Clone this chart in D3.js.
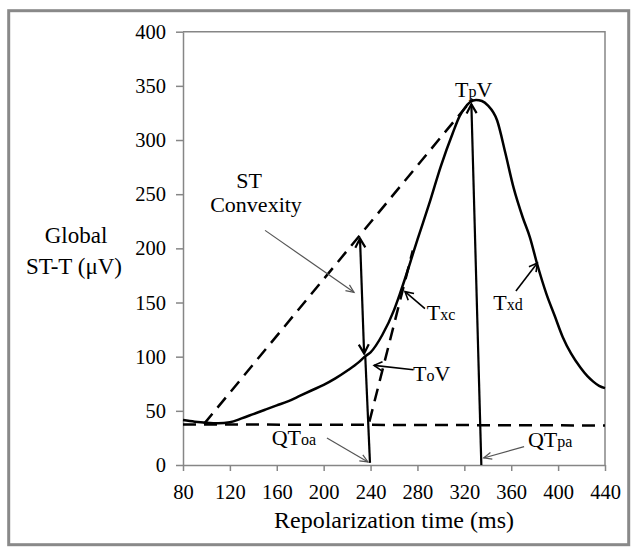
<!DOCTYPE html>
<html>
<head>
<meta charset="utf-8">
<script src="https://cdn.jsdelivr.net/npm/d3@7"></script>
<style>
  body { margin: 0; background: #fff; }
  svg text { font-family: "Liberation Serif", "Tinos", "DejaVu Serif", "Noto Serif", serif !important; fill: #000; }
</style>
</head>
<body>
<div id="chart"></div>
<script>
// global ST-T curve (ms, µV)
const timeMs = [80, 90, 100, 110, 120, 130, 140, 150, 160, 170, 180, 190, 200, 210, 220, 230, 235, 240,
  250, 260, 265, 270, 275, 280, 290, 300, 310, 316, 320, 325, 330, 335, 340, 348, 355, 362, 370, 376,
  382, 390, 397, 404, 411, 419, 425, 430, 435, 440]
const stt = [41.5, 40, 39, 38.5, 39.5, 43, 47, 51, 55, 59, 64, 69, 74, 80, 87, 95, 100, 104,
  120, 143, 158, 174, 191, 208, 241, 276, 306, 322, 329, 335, 337, 336, 332, 318, 288, 256, 228, 210,
  186, 158, 138, 118, 103, 90, 82, 77, 73, 71]

const xTicks = [80, 120, 160, 200, 240, 280, 320, 360, 400, 440]
const yTicks = [0, 50, 100, 150, 200, 250, 300, 350, 400]

// dashed construction lines [x1, y1, x2, y2]
const dashedLines = [
  [80, 37.5, 440, 36.5],     // baseline
  [98, 38, 327, 338],        // line to the peak
  [239, 40, 276, 198]        // tangent at Txc
]

// thick black arrows [x1, y1, x2, y2, head at start, head at end]
const thickArrows = [
  [231, 209, 234.5, 103, true, true],   // ST convexity
  [334.5, 0, 326, 333, false, true],    // TpV
  [235.5, 100, 239.5, 2, false, false]  // QToa drop
]

// thin pointers [x1, y1, x2, y2, kind]
const pointers = [
  [150, 216.6, 225.9, 159.4, "grey"],
  [202.8, 24.9, 237.8, 2.8, "grey"],
  [371, 17, 336.5, 6.5, "grey"],
  [286.4, 144.4, 269.4, 160, "black"],
  [276.5, 88, 243, 92, "black"],
  [364, 160.6, 382.3, 186.4, "black"]
]

// labels: [x, y, big part, small part, big part after]
const labels = [
  [312, 340, "T", "p", "V"],
  [288, 133.6, "T", "xc", ""],
  [276.2, 78, "T", "o", "V"],
  [344.7, 143, "T", "xd", ""],
  [155.7, 18.4, "QT", "oa", ""],
  [374.3, 16.5, "QT", "pa", ""]
]

const W = 637, H = 552
const svg = d3.select("#chart").append("svg").attr("width", W).attr("height", H)

// outer frame
svg.append("rect")
  .attr("x", 8.7).attr("y", 10.7).attr("width", 620).attr("height", 534)
  .attr("fill", "none").attr("stroke", "#898989").attr("stroke-width", 3)

const x = d3.scaleLinear().domain([80, 440]).range([183, 605])
const y = d3.scaleLinear().domain([0, 400]).range([465, 31.7])

const defs = svg.append("defs")
function marker(id, color, len, half, sw) {
  defs.append("marker")
    .attr("id", id)
    .attr("viewBox", "-12 -8 14 16")
    .attr("refX", 0).attr("refY", 0)
    .attr("markerWidth", 14).attr("markerHeight", 16)
    .attr("markerUnits", "userSpaceOnUse")
    .attr("orient", "auto-start-reverse")
    .append("path")
    .attr("d", `M${-len},${-half} L0,0 L${-len},${half}`)
    .attr("fill", "none").attr("stroke", color).attr("stroke-width", sw)
}
marker("headThick", "#000", 9, 5, 2.2)
marker("headBlack", "#000", 8, 4.5, 1.6)
marker("headGrey", "#555", 8, 3.5, 1.2)

// plot frame: top and right edges
svg.append("path")
  .attr("d", `M${x(80)},${y(400)} H${x(440)} V${y(0)}`)
  .attr("fill", "none").attr("stroke", "#868686").attr("stroke-width", 1.5)

const xAxis = svg.append("g")
  .attr("transform", `translate(0,${y(0)})`)
  .call(d3.axisBottom(x).tickValues(xTicks).tickSize(6).tickPadding(13).tickSizeOuter(0))
const yAxis = svg.append("g")
  .attr("transform", `translate(${x(80)},0)`)
  .call(d3.axisLeft(y).tickValues(yTicks).tickSize(7).tickPadding(10).tickSizeOuter(0))

;[xAxis, yAxis].forEach(g => {
  g.attr("font-family", null)
  g.select(".domain").attr("stroke", "#868686").attr("stroke-width", 1.5)
  g.selectAll(".tick line").attr("stroke", "#868686").attr("stroke-width", 1.5)
  g.selectAll(".tick text")
    .attr("font-size", 20.5)
    .attr("fill", "#000")
})

// axis titles
svg.append("text")
  .attr("x", (x(80) + x(440)) / 2).attr("y", 528)
  .attr("text-anchor", "middle").attr("font-size", 24)
  .text("Repolarization time (ms)")
svg.append("text")
  .attr("x", 76).attr("y", 243)
  .attr("text-anchor", "middle").attr("font-size", 23)
  .text("Global")
svg.append("text")
  .attr("x", 74).attr("y", 274)
  .attr("text-anchor", "middle").attr("font-size", 23)
  .text("ST-T (μV)")

// dashed lines
svg.selectAll(".dash")
  .data(dashedLines)
  .enter().append("line")
  .attr("x1", d => x(d[0])).attr("y1", d => y(d[1]))
  .attr("x2", d => x(d[2])).attr("y2", d => y(d[3]))
  .attr("stroke", "#000").attr("stroke-width", 2.5)
  .attr("stroke-dasharray", "13,8")

// the curve
const line = d3.line()
  .x((d, i) => x(timeMs[i]))
  .y(d => y(d))
  .curve(d3.curveMonotoneX)
svg.append("path")
  .datum(stt)
  .attr("d", line)
  .attr("fill", "none").attr("stroke", "#000").attr("stroke-width", 2.5)

// thick arrows
svg.selectAll(".thick")
  .data(thickArrows)
  .enter().append("line")
  .attr("x1", d => x(d[0])).attr("y1", d => y(d[1]))
  .attr("x2", d => x(d[2])).attr("y2", d => y(d[3]))
  .attr("stroke", "#000").attr("stroke-width", 2.2)
  .attr("marker-start", d => d[4] ? "url(#headThick)" : null)
  .attr("marker-end", d => d[5] ? "url(#headThick)" : null)

// pointers
svg.selectAll(".ptr")
  .data(pointers)
  .enter().append("line")
  .attr("x1", d => x(d[0])).attr("y1", d => y(d[1]))
  .attr("x2", d => x(d[2])).attr("y2", d => y(d[3]))
  .attr("stroke", d => d[4] === "grey" ? "#555" : "#000")
  .attr("stroke-width", d => d[4] === "grey" ? 1.2 : 1.6)
  .attr("marker-end", d => d[4] === "grey" ? "url(#headGrey)" : "url(#headBlack)")

// ST Convexity label
svg.append("text")
  .attr("x", x(136.3)).attr("y", y(255.3))
  .attr("text-anchor", "middle").attr("font-size", 22)
  .text("ST")
svg.append("text")
  .attr("x", x(142.3)).attr("y", y(234))
  .attr("text-anchor", "middle").attr("font-size", 22)
  .text("Convexity")

// T labels with small letters
labels.forEach(d => {
  const t = svg.append("text").attr("x", x(d[0])).attr("y", y(d[1])).attr("font-size", 22)
  t.append("tspan").text(d[2])
  t.append("tspan").attr("font-size", 16).text(d[3])
  if (d[4]) t.append("tspan").text(d[4])
})
</script>
</body>
</html>
